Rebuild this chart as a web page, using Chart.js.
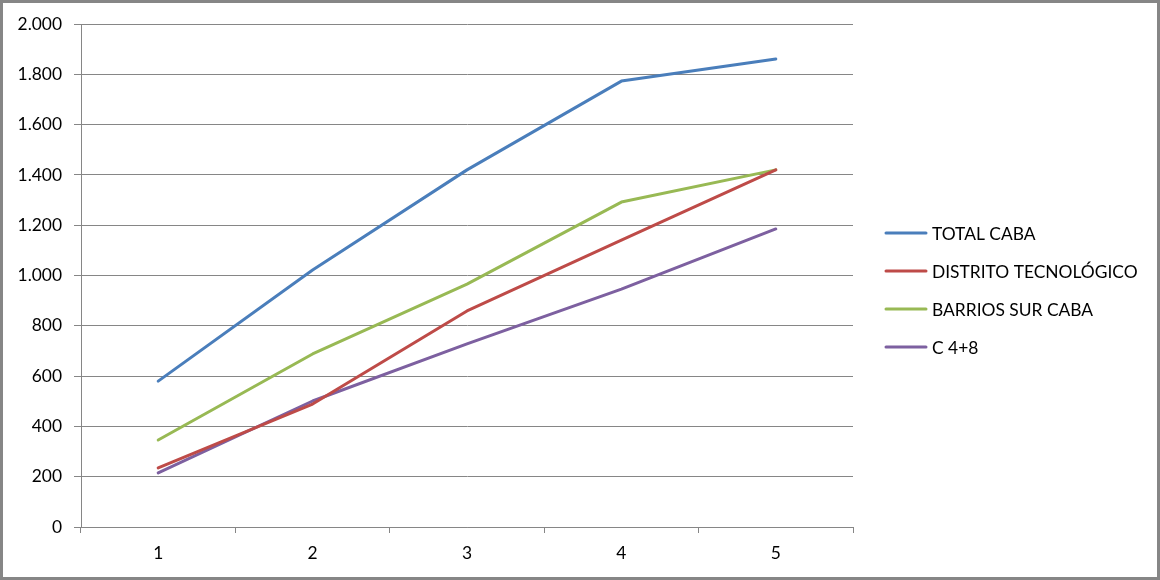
<!DOCTYPE html>
<html>
<head>
<meta charset="utf-8">
<script src="https://cdn.jsdelivr.net/npm/chart.js@4.4.0/dist/chart.umd.min.js"></script>
<style>
html,body{margin:0;padding:0;background:#fff;}
#wrap{width:1160px;height:580px;position:relative;}
</style>
</head>
<body>
<div id="wrap"><canvas id="c" width="1160" height="580"></canvas></div>
<script>
const categories = ['1','2','3','4','5'];
const seriesNames = ['TOTAL CABA','DISTRITO TECNOLÓGICO','BARRIOS SUR CABA','C 4+8'];
const totalCaba = [580, 1022, 1420, 1773, 1861];
const distritoTecnologico = [235, 489, 859, 1141, 1420];
const barriosSurCaba = [346, 688, 966, 1292, 1420];
const c48 = [215, 501, 728, 946, 1185];
const yTicks = [0,200,400,600,800,1000,1200,1400,1600,1800,2000];

const colors = ['#4A7EBB','#BE4B48','#98B954','#7D60A0'];
const FONT = 'Lato, "Open Sans", sans-serif';
const FS = 17.4;

function fmt(v){ return String(v).replace(/\B(?=(\d{3})+(?!\d))/g, '.'); }

const frame = {
  id:'frame',
  afterDraw(chart){
    const ctx = chart.ctx;
    ctx.save();
    ctx.strokeStyle = '#868686';
    ctx.lineWidth = 3;
    ctx.strokeRect(1.5,1.5,1157,577);
    // legend
    ctx.font = FS + 'px ' + FONT;
    ctx.textBaseline = 'middle';
    ctx.fillStyle = '#000';
    const ys = [233,271,309,347];
    chart.data.datasets.forEach((ds,i)=>{
      ctx.strokeStyle = ds.borderColor;
      ctx.lineWidth = 3;
      ctx.lineCap = 'round';
      ctx.beginPath();
      ctx.moveTo(886, ys[i]);
      ctx.lineTo(926, ys[i]);
      ctx.stroke();
      ctx.fillText(ds.label, 932, ys[i]+1);
    });
    ctx.restore();
  }
};

const datasets = [totalCaba, distritoTecnologico, barriosSurCaba, c48].map((d,i)=>({
  label: seriesNames[i],
  data: d,
  borderColor: colors[i],
  backgroundColor: colors[i],
  borderWidth: 3,
  pointRadius: 0,
  tension: 0,
  borderCapStyle: 'round',
  borderJoinStyle: 'round'
}));

new Chart(document.getElementById('c'), {
  type: 'line',
  data: { labels: categories, datasets },
  options: {
    responsive: false,
    animation: false,
    layout: { padding: { left: 0, right: 307, top: 24, bottom: 0 } },
    plugins: { legend: { display: false }, tooltip: { enabled: false } },
    scales: {
      x: {
        offset: true,
        grid: { offset: true, drawOnChartArea: false, drawTicks: true, tickLength: 6, color: '#868686', lineWidth: 1 },
        border: { display: true, color: '#868686', width: 1 },
        ticks: { color: '#000', font: { family: FONT, size: FS }, padding: 10, maxRotation: 0 },
        afterFit(s){ s.height = 53; }
      },
      y: {
        min: 0, max: 2000,
        afterBuildTicks(s){ s.ticks = yTicks.map(v=>({value:v})); },
        grid: { color: '#868686', lineWidth: 1, tickLength: 7 },
        border: { display: true, color: '#868686', width: 1 },
        ticks: { color: '#000', font: { family: FONT, size: FS }, padding: 12, callback: v => fmt(v) },
        afterFit(s){ s.width = 81; }
      }
    }
  },
  plugins: [frame]
});
</script>
</body>
</html>
